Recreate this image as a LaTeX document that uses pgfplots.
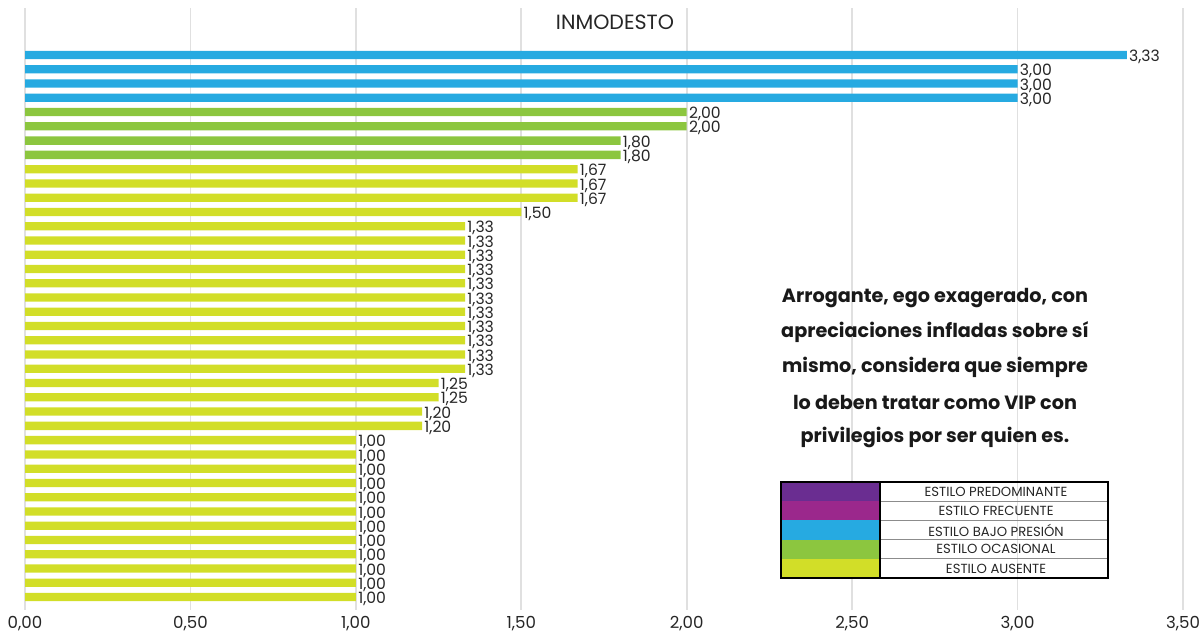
\documentclass[border=0pt]{standalone}
\usepackage{pgfplots}
\pgfplotsset{compat=1.18}
\usepackage{fontspec}
\setmainfont{Poppins}
\definecolor{cblue}{RGB}{38,170,225}
\definecolor{cgreen}{RGB}{140,198,63}
\definecolor{cyellow}{RGB}{210,222,40}
\definecolor{cpurple}{RGB}{106,45,145}
\definecolor{cmagenta}{RGB}{155,40,140}
\begin{document}
\begin{tikzpicture}[x=0.5pt,y=0.5pt]
\path[use as bounding box] (0,0) rectangle (1199,640);
\begin{axis}[
  at={(12.5pt,15pt)}, anchor=south west,
  scale only axis, width=579pt, height=301pt,
  xmin=0, xmax=3.5, ymin=0.09, ymax=42.3,
  axis line style={draw=none},
  xtick={0,0.5,...,3.5}, ytick=\empty,
  xmajorgrids, major grid style={draw=black!12, line width=0.8pt},
  major tick length=0pt,
  xticklabel style={font=\fontsize{8.3}{9}\selectfont\color{black!85}, yshift=0.5pt},
  xticklabel={\pgfmathprintnumber[fixed,fixed zerofill,precision=2,use comma,assume math mode=true]{\tick}},
  xbar, bar width=0.58,
  point meta=x,
  nodes near coords={\pgfmathprintnumber[fixed,fixed zerofill,precision=2,use comma,assume math mode=true]{\pgfplotspointmeta}},
  nodes near coords style={font=\fontsize{7.8}{8}\selectfont\color{black!85}, anchor=west, inner sep=1pt, yshift=-1pt},
  clip=false,
]
\addplot[draw=none, fill=cblue, bar shift=0pt] coordinates {
(3.33,39) (3.00,38) (3.00,37) (3.00,36)};
\addplot[draw=none, fill=cgreen, bar shift=0pt] coordinates {
(2.00,35) (2.00,34) (1.80,33) (1.80,32)};
\addplot[draw=none, fill=cyellow, bar shift=0pt] coordinates {
(1.67,31) (1.67,30) (1.67,29) (1.50,28)
(1.33,27) (1.33,26) (1.33,25) (1.33,24) (1.33,23) (1.33,22) (1.33,21) (1.33,20) (1.33,19) (1.33,18) (1.33,17)
(1.25,16) (1.25,15) (1.20,14) (1.20,13)
(1.00,12) (1.00,11) (1.00,10) (1.00,9) (1.00,8) (1.00,7) (1.00,6) (1.00,5) (1.00,4) (1.00,3) (1.00,2) (1.00,1)};
\end{axis}
\node[font=\fontsize{10.3}{11}\selectfont, text=black!85] at (615,618) {INMODESTO};
\begin{scope}[every node/.style={font=\bfseries\fontsize{9.6}{10}\selectfont, text=black!90}]
\node at (935,342) {Arrogante, ego exagerado, con};
\node at (935,308) {apreciaciones infladas sobre sí};
\node at (935,273) {mismo, considera que siempre};
\node at (935,238) {lo deben tratar como VIP con};
\node at (935,203) {privilegios por ser quien es.};
\end{scope}
% legend table
\fill[cpurple] (781,158) rectangle (880,138.8);
\fill[cmagenta] (781,138.8) rectangle (880,119.6);
\fill[cblue] (781,119.6) rectangle (880,100.4);
\fill[cgreen] (781,100.4) rectangle (880,81.2);
\fill[cyellow] (781,81.2) rectangle (880,62);
\foreach \yy in {138.8,119.6,100.4,81.2} \draw[black!45, line width=0.6pt] (880,\yy) -- (1108,\yy);
\draw[black, line width=1pt] (781,62) rectangle (1108,158);
\draw[black, line width=1pt] (880,62) -- (880,158);
\foreach \t [count=\k] in {ESTILO PREDOMINANTE,ESTILO FRECUENTE,ESTILO BAJO PRESIÓN,ESTILO OCASIONAL,ESTILO AUSENTE}
  \node[font=\fontsize{6.6}{7}\selectfont, text=black!85] at (996,{158-9.6-19.2*(\k-1)}) {\t};
\end{tikzpicture}
\end{document}
